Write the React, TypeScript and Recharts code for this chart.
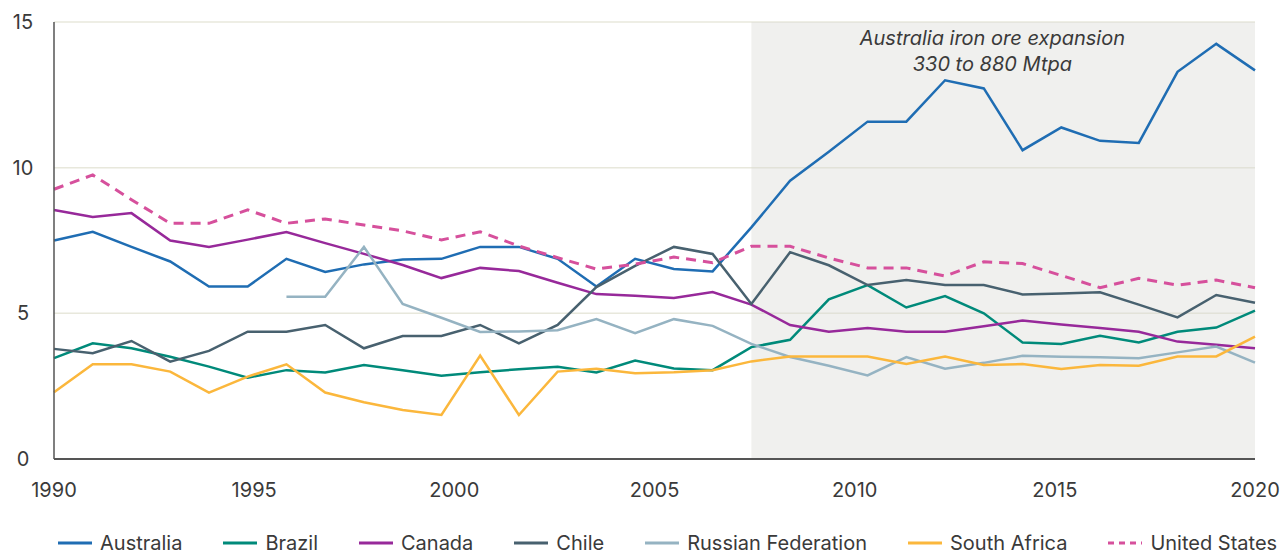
import React from 'react';
import {
    LineChart,
    Line,
    XAxis,
    YAxis,
    CartesianGrid,
    ReferenceArea,
} from 'recharts';

// 32 observations spread evenly over the 1990–2020 axis
const australia = [7.5, 7.8, 7.28, 6.78, 5.92, 5.92, 6.87, 6.42, 6.68, 6.85, 6.87, 7.28, 7.28, 6.87, 5.92, 6.87, 6.52, 6.44, 7.95, 9.55, 10.55, 11.58, 11.58, 13.0, 12.72, 10.6, 11.38, 10.92, 10.85, 13.29, 14.25, 13.34];
const brazil = [3.46, 3.97, 3.8, 3.51, 3.17, 2.79, 3.05, 2.97, 3.23, 3.05, 2.86, 2.98, 3.08, 3.17, 2.97, 3.38, 3.11, 3.05, 3.84, 4.09, 5.48, 5.97, 5.2, 5.59, 5.0, 4.0, 3.95, 4.23, 4.0, 4.37, 4.51, 5.09];
const canada = [8.55, 8.31, 8.44, 7.5, 7.28, 7.53, 7.79, 7.41, 7.04, 6.66, 6.21, 6.56, 6.45, 6.05, 5.66, 5.6, 5.53, 5.73, 5.3, 4.6, 4.37, 4.5, 4.37, 4.37, 4.56, 4.75, 4.62, 4.5, 4.37, 4.03, 3.92, 3.8];
const chile = [3.78, 3.63, 4.05, 3.34, 3.71, 4.37, 4.37, 4.6, 3.8, 4.22, 4.22, 4.6, 3.97, 4.6, 5.9, 6.63, 7.28, 7.04, 5.32, 7.1, 6.65, 5.97, 6.14, 5.97, 5.97, 5.65, 5.68, 5.72, 5.3, 4.86, 5.63, 5.36];
const russia = [null, null, null, null, null, null, 5.57, 5.57, 7.28, 5.32, 4.85, 4.36, 4.38, 4.42, 4.8, 4.32, 4.8, 4.57, 3.95, 3.5, 3.2, 2.87, 3.5, 3.1, 3.3, 3.54, 3.51, 3.49, 3.46, 3.66, 3.86, 3.31];
const southAfrica = [2.29, 3.25, 3.25, 3.0, 2.28, 2.83, 3.25, 2.28, 1.95, 1.68, 1.51, 3.55, 1.51, 3.0, 3.1, 2.94, 2.98, 3.05, 3.35, 3.52, 3.52, 3.52, 3.26, 3.52, 3.23, 3.26, 3.09, 3.23, 3.2, 3.52, 3.52, 4.2];
const unitedStates = [9.26, 9.75, 8.9, 8.09, 8.09, 8.55, 8.09, 8.24, 8.03, 7.83, 7.52, 7.8, 7.31, 6.91, 6.52, 6.69, 6.93, 6.74, 7.3, 7.3, 6.9, 6.56, 6.56, 6.28, 6.77, 6.71, 6.3, 5.88, 6.2, 5.97, 6.14, 5.88];

const xTicks = [1990, 1995, 2000, 2005, 2010, 2015, 2020];
const yTicks = [0, 5, 10, 15];
const expansionStartIndex = 18;

const series = [
    { key: 'australia', name: 'Australia', values: australia, color: '#1f6db3' },
    { key: 'brazil', name: 'Brazil', values: brazil, color: '#008a7a' },
    { key: 'canada', name: 'Canada', values: canada, color: '#97299a' },
    { key: 'chile', name: 'Chile', values: chile, color: '#48616f' },
    { key: 'russia', name: 'Russian Federation', values: russia, color: '#95b3c2' },
    { key: 'southAfrica', name: 'South Africa', values: southAfrica, color: '#fbb73c' },
    { key: 'unitedStates', name: 'United States', values: unitedStates, color: '#d6509c', dashed: true },
];

const START = 1990;
const END = 2020;
const n = australia.length;

const chartData = australia.map((_, i) => {
    const row: { [k: string]: number | null } = { year: START + (i * (END - START)) / (n - 1) };
    series.forEach((s) => {
        row[s.key] = s.values[i];
    });
    return row;
});

const FONT = 'Inter, "Noto Sans", sans-serif';
const TEXT = '#3a3a3a';

const YTick = (props: any) => {
    const { y, payload } = props;
    return (
        <text x={23} y={y} textAnchor="middle" dominantBaseline="central" fontSize={20} fill={TEXT} fontFamily={FONT}>
            {payload.value}
        </text>
    );
};

const Annotation = (props: any) => {
    const { viewBox } = props;
    if (!viewBox) return null;
    const cx = viewBox.x + 241;
    return (
        <text textAnchor="middle" fontSize={20} fontStyle="italic" fill={TEXT} fontFamily={FONT}>
            <tspan x={cx} y={viewBox.y + 23}>Australia iron ore expansion</tspan>
            <tspan x={cx} y={viewBox.y + 49}>330 to 880 Mtpa</tspan>
        </text>
    );
};

const App: React.FC = () => {
    return (
        <div style={{ position: 'fixed', left: 0, top: 0, width: 1284, height: 555, background: '#fff', fontFamily: FONT }}>
            <LineChart width={1284} height={555} data={chartData} margin={{ top: 22, right: 29, left: 0, bottom: 56 }}>
                <CartesianGrid vertical={false} stroke="#e8e8dc" strokeWidth={1.5} />
                <ReferenceArea
                    x1={chartData[expansionStartIndex].year as number}
                    x2={END}
                    y1={0}
                    y2={15}
                    fill="#d8d8d2"
                    fillOpacity={0.38}
                    stroke="none"
                    label={<Annotation />}
                />
                <XAxis
                    dataKey="year"
                    type="number"
                    domain={[START, END]}
                    ticks={xTicks}
                    height={40}
                    tickLine={false}
                    tickMargin={18}
                    axisLine={{ stroke: '#555', strokeWidth: 2 }}
                    tick={{ fontSize: 20, fill: TEXT, fontFamily: FONT }}
                />
                <YAxis
                    domain={[0, 15]}
                    ticks={yTicks}
                    width={54}
                    tickLine={false}
                    axisLine={{ stroke: '#555', strokeWidth: 1.5 }}
                    tick={<YTick />}
                />
                {series.map((s) => (
                    <Line
                        key={s.key}
                        dataKey={s.key}
                        name={s.name}
                        stroke={s.color}
                        strokeWidth={s.dashed ? 3 : 2.5}
                        strokeDasharray={s.dashed ? '10 7' : undefined}
                        dot={false}
                        activeDot={false}
                        type="linear"
                        isAnimationActive={false}
                    />
                ))}
            </LineChart>
            <div style={{ position: 'absolute', left: 58, top: 532, display: 'flex', alignItems: 'center', gap: 41 }}>
                {series.map((s) => (
                    <div key={s.key} style={{ display: 'flex', alignItems: 'center' }}>
                        <svg width={34} height={6} style={{ marginRight: 8 }}>
                            <line
                                x1={0}
                                y1={3}
                                x2={34}
                                y2={3}
                                stroke={s.color}
                                strokeWidth={3}
                                strokeDasharray={s.dashed ? '6 5' : undefined}
                            />
                        </svg>
                        <span style={{ fontSize: 20, color: TEXT, lineHeight: '22px', whiteSpace: 'nowrap' }}>{s.name}</span>
                    </div>
                ))}
            </div>
        </div>
    );
};

export default App;
